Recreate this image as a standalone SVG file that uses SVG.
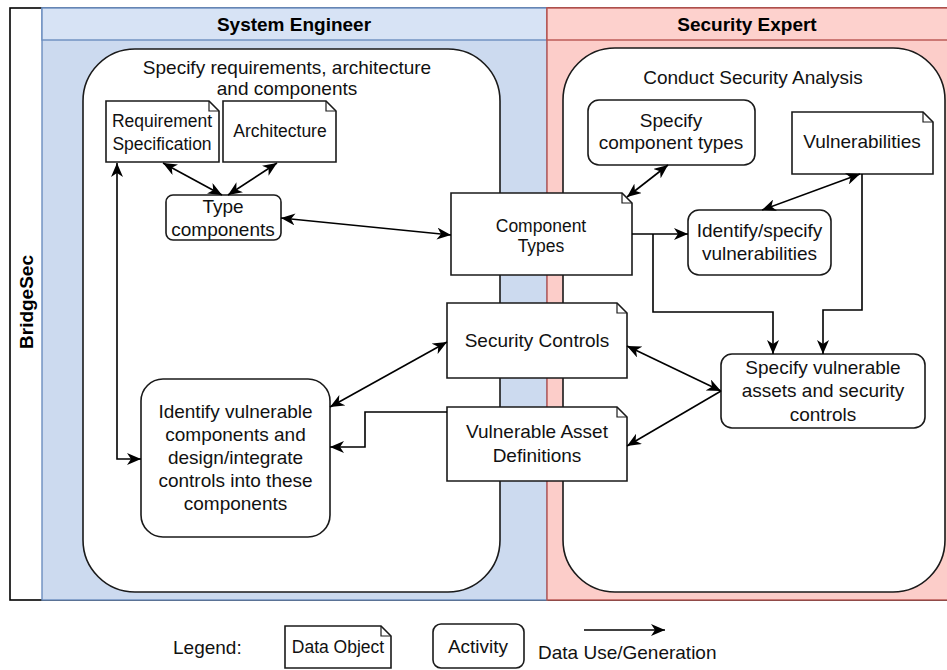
<svg xmlns="http://www.w3.org/2000/svg" width="947" height="670" viewBox="0 0 947 670">
<defs>
<marker id="arr" viewBox="0 0 14 12" refX="14" refY="6" markerWidth="14" markerHeight="12" markerUnits="userSpaceOnUse" orient="auto-start-reverse">
<path d="M0,0 L14,6 L0,12 L4,6 Z" fill="#000"/>
</marker>
<style>
text{font-family:"Liberation Sans",Arial,sans-serif;font-size:19px;fill:#111;text-anchor:middle}
.b{font-weight:bold;fill:#000}
.s{font-size:17.5px}
.node{fill:#fff;stroke:#1a1a1a;stroke-width:1.6}
.fold{fill:none;stroke:#1a1a1a;stroke-width:1.2}
.con{fill:none;stroke:#000;stroke-width:1.6}
</style>
</defs>
<rect width="947" height="670" fill="#fff"/>
<g id="pool">
<rect x="10" y="8" width="940" height="592" fill="#fff" stroke="#000" stroke-width="1.6"/>
<rect x="42" y="8" width="505" height="592" fill="#ccdaef" stroke="#6c8ebf" stroke-width="1.4"/>
<rect x="42" y="8" width="505" height="32" fill="#d7e3f5" stroke="#6c8ebf" stroke-width="1.4"/>
<rect x="547" y="8" width="403" height="592" fill="#fccdc9" stroke="#b85450" stroke-width="1.4"/>
<rect x="547" y="8" width="403" height="32" fill="#fdd1cd" stroke="#b85450" stroke-width="1.4"/>
<text class="b" transform="translate(33,302) rotate(-90)">BridgeSec</text>
<text class="b" x="294" y="31">System Engineer</text>
<text class="b" x="747" y="31">Security Expert</text>
</g>
<g id="specify-req">
<rect class="node" x="83" y="49" width="417" height="543" rx="52"/>
<text x="287" y="74">Specify requirements, architecture</text>
<text x="287" y="95">and components</text>
</g>
<g id="conduct-analysis">
<rect class="node" x="563" y="48" width="382" height="544" rx="52"/>
<text x="753" y="84">Conduct Security Analysis</text>
</g>
<g id="req-spec">
<path class="node" d="M106,101 H209 L219,111 V162 H106 Z"/><path class="fold" d="M209,101 V111 H219"/>
<text class="s" x="162" y="127">Requirement</text>
<text class="s" x="162" y="150">Specification</text>
</g>
<g id="architecture">
<path class="node" d="M223,101 H326 L336,111 V162 H223 Z"/><path class="fold" d="M326,101 V111 H336"/>
<text class="s" x="280" y="137">Architecture</text>
</g>
<g id="type-components">
<rect class="node" x="166" y="195" width="115" height="45" rx="7"/>
<text x="223" y="213">Type</text>
<text x="223" y="236">components</text>
</g>
<g id="component-types">
<path class="node" d="M451,193 H622 L632,203 V275 H451 Z"/><path class="fold" d="M622,193 V203 H632"/>
<text class="s" x="541" y="232">Component</text>
<text class="s" x="541" y="252">Types</text>
</g>
<g id="security-controls">
<path class="node" d="M447,303 H617 L627,313 V378 H447 Z"/><path class="fold" d="M617,303 V313 H627"/>
<text x="537" y="347">Security Controls</text>
</g>
<g id="vulnerable-asset-definitions">
<path class="node" d="M447,407 H617 L627,417 V481 H447 Z"/><path class="fold" d="M617,407 V417 H627"/>
<text x="537" y="438">Vulnerable Asset</text>
<text x="537" y="462">Definitions</text>
</g>
<g id="identify-vulnerable-components">
<rect class="node" x="141" y="379" width="189" height="158" rx="22"/>
<text x="235.5" y="418">Identify vulnerable</text>
<text x="235.5" y="441">components and</text>
<text x="235.5" y="464">design/integrate</text>
<text x="235.5" y="487">controls into these</text>
<text x="235.5" y="510">components</text>
</g>
<g id="specify-component-types">
<rect class="node" x="588" y="100" width="167" height="65" rx="11"/>
<text x="671" y="127">Specify</text>
<text x="671" y="149">component types</text>
</g>
<g id="vulnerabilities">
<path class="node" d="M792,112 H923 L933,122 V174 H792 Z"/><path class="fold" d="M923,112 V122 H933"/>
<text x="862" y="148">Vulnerabilities</text>
</g>
<g id="identify-specify-vulnerabilities">
<rect class="node" x="688" y="210" width="143" height="65" rx="11"/>
<text x="759.5" y="237">Identify/specify</text>
<text x="759.5" y="260">vulnerabilities</text>
</g>
<g id="specify-vulnerable-assets">
<rect class="node" x="721" y="354" width="204" height="74" rx="11"/>
<text x="823" y="374">Specify vulnerable</text>
<text x="823" y="397">assets and security</text>
<text x="823" y="421">controls</text>
</g>
<g id="connectors">
<path class="con" d="M163,163 L222,195" marker-start="url(#arr)" marker-end="url(#arr)"/>
<path class="con" d="M277,163 L228,195" marker-start="url(#arr)" marker-end="url(#arr)"/>
<path class="con" d="M281,218 L451,235" marker-start="url(#arr)" marker-end="url(#arr)"/>
<path class="con" d="M117,163 V459 H141" marker-start="url(#arr)" marker-end="url(#arr)"/>
<path class="con" d="M668,165 L627,197" marker-start="url(#arr)" marker-end="url(#arr)"/>
<path class="con" d="M860,174 L762,210" marker-start="url(#arr)" marker-end="url(#arr)"/>
<path class="con" d="M632,234 H688" marker-end="url(#arr)"/>
<path class="con" d="M653,234 V312 H773 V354" marker-end="url(#arr)"/>
<path class="con" d="M862,174 V310 H823 V354" marker-end="url(#arr)"/>
<path class="con" d="M627,346 L721,391" marker-start="url(#arr)" marker-end="url(#arr)"/>
<path class="con" d="M721,391 L627,446" marker-end="url(#arr)"/>
<path class="con" d="M447,342 L330,407" marker-start="url(#arr)" marker-end="url(#arr)"/>
<path class="con" d="M447,412 H365 V447 H330" marker-end="url(#arr)"/>
</g>
<g id="legend">
<text x="173" y="654" style="text-anchor:start">Legend:</text>
<path class="node" d="M285,626 H381 L391,636 V668 H285 Z"/><path class="fold" d="M381,626 V636 H391"/>
<text class="s" x="338" y="653">Data Object</text>
<rect class="node" x="433" y="624" width="91" height="44" rx="8"/>
<text x="478" y="653">Activity</text>
<path class="con" d="M584,630 H665" marker-end="url(#arr)"/>
<text x="538" y="659" style="text-anchor:start">Data Use/Generation</text>
</g>
</svg>
